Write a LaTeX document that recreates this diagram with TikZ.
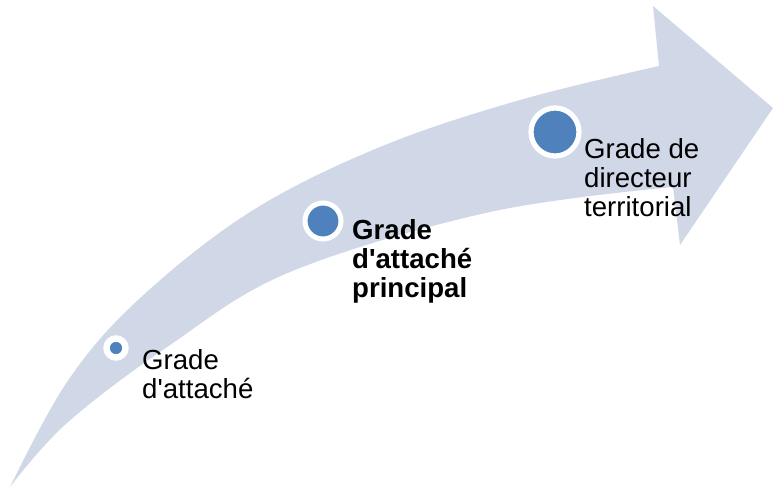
\documentclass[tikz,border=0pt]{standalone}
\usepackage{fontspec}
\setmainfont{Liberation Sans}
\definecolor{arrowfill}{RGB}{208,216,232}
\definecolor{dotblue}{RGB}{79,129,189}
\begin{document}
\begin{tikzpicture}[x=1pt,y=-1pt,
  dot/.style={circle,fill=dotblue,draw=white,inner sep=0pt},
  lbl/.style={anchor=north west,inner sep=0pt,align=left,text=black,
    font=\fontsize{27.6}{29}\selectfont}]
\useasboundingbox (0,0) rectangle (773,488);
% curved arrow
\fill[arrowfill]
  plot[smooth,tension=0.6] coordinates {(10,487) (67,382) (138,300) (250,212) (380,147) (520,100) (659,66)}
  -- (653,6) -- (773,108) -- (680,245) -- (673,187)
  -- plot[smooth,tension=0.6] coordinates {(673,187) (490,212) (290,272) (170,345) (67,423) (10,487)}
  -- cycle;
% dots
\node[dot,line width=6.4pt,minimum size=19pt] (c1) at (116,348) {};
\node[dot,line width=5pt,minimum size=36pt] (c2) at (323,221) {};
\node[dot,line width=5.2pt,minimum size=48pt] (c3) at (555,132) {};
% labels
\node[lbl] (t1) at (142,349) {Grade\\d\textquotesingle attaché};
\node[lbl,font=\fontsize{27.6}{29}\selectfont\bfseries] (t2) at (352,219) {Grade\\d\textquotesingle attaché\\principal};
\node[lbl] (t3) at (584,138) {Grade de\\directeur\\territorial};
\end{tikzpicture}
\end{document}
